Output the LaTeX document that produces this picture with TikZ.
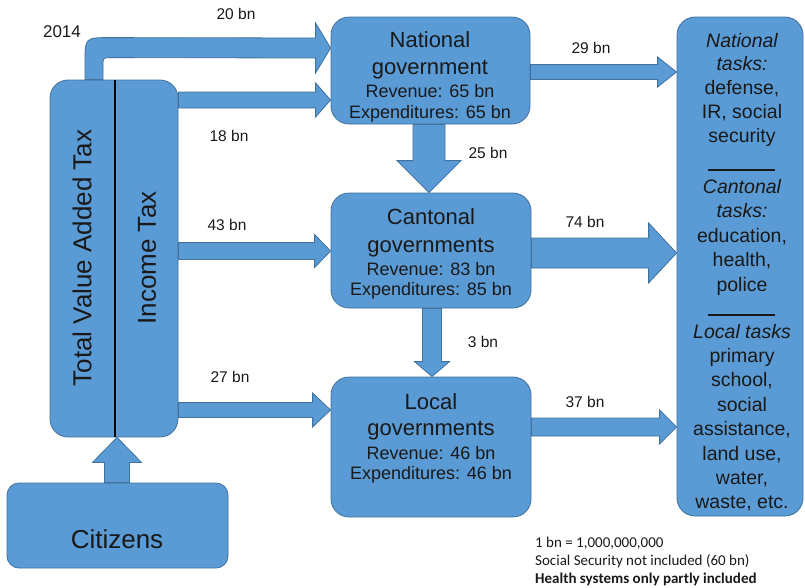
\documentclass[tikz,border=0pt]{standalone}
\usepackage{fontspec}
\setmainfont{Liberation Sans}
\newfontfamily\notefont{Carlito}
\usetikzlibrary{calc}
\definecolor{boxblue}{RGB}{91,155,213}
\definecolor{boxedge}{RGB}{65,113,156}
\definecolor{txt}{RGB}{25,25,25}
% horizontal block arrow: start, end, shaft half, head half, head length
\newcommand\harr[5]{\draw[arr] ($(#1)+(0,-#3)$) -- ($(#2)+(-#5,-#3)$) -- ($(#2)+(-#5,-#4)$) -- (#2) -- ($(#2)+(-#5,#4)$) -- ($(#2)+(-#5,#3)$) -- ($(#1)+(0,#3)$) -- cycle;}
% downward block arrow
\newcommand\varr[5]{\draw[arr] ($(#1)+(-#3,0)$) -- ($(#2)+(-#3,-#5)$) -- ($(#2)+(-#4,-#5)$) -- (#2) -- ($(#2)+(#4,-#5)$) -- ($(#2)+(#3,-#5)$) -- ($(#1)+(#3,0)$) -- cycle;}
\begin{document}
\begin{tikzpicture}[x=1pt,y=-1pt,
  box/.style={draw=boxedge, fill=boxblue, line width=0.8pt, rounded corners=18pt, inner sep=0pt},
  arr/.style={draw=boxedge, fill=boxblue, line width=0.8pt, line join=miter},
  lbl/.style={font=\fontsize{15.5}{18}\selectfont, text=txt, inner sep=0pt},
  big/.style={font=\fontsize{26}{30}\selectfont, text=txt, inner sep=0pt},
  ttl/.style={font=\fontsize{22}{26}\selectfont, text=txt, inner sep=0pt, anchor=base},
  det/.style={font=\fontsize{18}{21}\selectfont, text=txt, inner sep=0pt, anchor=base},
  tk/.style={font=\fontsize{19.5}{23}\selectfont, text=txt, inner sep=0pt, anchor=base},
  nt/.style={font=\notefont\fontsize{15}{18}\selectfont, text=txt, inner sep=0pt, anchor=base west}
]
\useasboundingbox (0,0) rectangle (805,587);

% boxes
\node[box, minimum width=128pt, minimum height=357pt] (tax) at (114,258.5) {};
\node[box, rounded corners=12pt, minimum width=221pt, minimum height=85pt] (cit) at (117.5,525.5) {};
\node[box, minimum width=199pt, minimum height=107pt] (nat) at (430.5,70.5) {};
\node[box, minimum width=200pt, minimum height=115pt] (cant) at (431,250.5) {};
\node[box, minimum width=200pt, minimum height=140pt] (loc) at (431,447) {};
\node[box, minimum width=126pt, minimum height=499pt] (tasks) at (740,266.5) {};

% divider in tax box
\coordinate (dv1) at (tax.north -| 115,0);
\coordinate (dv2) at (tax.south -| 115,0);
\draw[line width=1.5pt, black] (dv1) -- (dv2);

% curved arrow 20 bn
\coordinate (c20s) at (tax.north -| 94,0);
\coordinate (c20e) at (nat.west |- 0,48);
\draw[arr] ($(c20s)+(-9,0)$) -- ($(c20s)+(-9,-17)$) .. controls ($(c20s)+(-9,-42)$) .. ($(c20s)+(16,-42)$)
  -- ($(c20e)+(-15,-10)$) -- ($(c20e)+(-15,-25)$) -- (c20e) -- ($(c20e)+(-15,25)$) -- ($(c20e)+(-15,10)$)
  -- ($(c20s)+(17,-22)$) .. controls ($(c20s)+(9,-22)$) .. ($(c20s)+(9,-14)$) -- ($(c20s)+(9,0)$) -- cycle;

% horizontal arrows
\coordinate (a18s) at (tax.east |- 0,100);  \coordinate (a18e) at (nat.west |- 0,100);
\coordinate (a43s) at (tax.east |- 0,251);  \coordinate (a43e) at (cant.west |- 0,251);
\coordinate (a27s) at (tax.east |- 0,410);  \coordinate (a27e) at (loc.west |- 0,410);
\coordinate (a29s) at (nat.east |- 0,72);   \coordinate (a29e) at (tasks.west |- 0,72);
\coordinate (a74s) at (cant.east |- 0,253); \coordinate (a74e) at (tasks.west |- 0,253);
\coordinate (a37s) at (loc.east |- 0,427);  \coordinate (a37e) at (tasks.west |- 0,427);
\harr{a18s}{a18e}{8}{17}{15}
\harr{a43s}{a43e}{8.5}{16.5}{16}
\harr{a27s}{a27e}{7.5}{17}{18}
\harr{a29s}{a29e}{7.5}{15}{19}
\harr{a74s}{a74e}{15}{30}{28}
\harr{a37s}{a37e}{9}{17}{17}

% vertical arrows
\coordinate (a25s) at (nat.south -| 429,0);  \coordinate (a25e) at (cant.north -| 429,0);
\coordinate (a3s) at (cant.south -| 432,0);  \coordinate (a3e) at (loc.north -| 432,0);
\varr{a25s}{a25e}{16}{32}{32}
\varr{a3s}{a3e}{9.5}{17.5}{15}
\coordinate (cu0) at (cit.north -| 117,0);
\coordinate (cu1) at (tax.south -| 117,0);
\draw[arr] ($(cu0)+(-12.5,0)$) -- ($(cu1)+(-12.5,25)$) -- ($(cu1)+(-24.5,25)$) -- (cu1)
  -- ($(cu1)+(24.5,25)$) -- ($(cu1)+(12.5,25)$) -- ($(cu0)+(12.5,0)$) -- cycle;

% tax texts
\node[big, rotate=90] (tvat) at (82,258) {Total Value Added Tax};
\node[big, rotate=90] (tinc) at (147,258) {Income Tax};
\node[big] (tcit) at (117,539) {Citizens};

% government texts
\node[ttl] (n1) at (430,47) {National};
\node[ttl] (n2) at (430,74) {government};
\node[det] (n3) at (430,97) {Revenue: 65 bn};
\node[det] (n4) at (430,118) {Expenditures: 65 bn};
\node[ttl] (k1) at (431,224) {Cantonal};
\node[ttl] (k2) at (431,252) {governments};
\node[det] (k3) at (431,275) {Revenue: 83 bn};
\node[det] (k4) at (431,295) {Expenditures: 85 bn};
\node[ttl] (l1) at (431,409) {Local};
\node[ttl] (l2) at (431,435) {governments};
\node[det] (l3) at (431,459) {Revenue: 46 bn};
\node[det] (l4) at (431,479) {Expenditures: 46 bn};

% tasks
\node[tk] (t1) at (742,47) {\itshape National};
\node[tk] (t2) at (742,70.75) {\itshape tasks:};
\node[tk] (t3) at (742,94.5) {defense,};
\node[tk] (t4) at (742,118.25) {IR, social};
\node[tk] (t5) at (742,142) {security};
\draw[line width=1.2pt, txt] (708,170) -- (775,170);
\node[tk] (t6) at (742,193) {\itshape Cantonal};
\node[tk] (t7) at (742,217.5) {\itshape tasks:};
\node[tk] (t8) at (742,242) {education,};
\node[tk] (t9) at (742,266.5) {health,};
\node[tk] (t10) at (742,291) {police};
\draw[line width=1.2pt, txt] (708,315) -- (775,315);
\node[tk] (t11) at (742,338) {\itshape Local tasks};
\node[tk] (t12) at (742,362.4) {primary};
\node[tk] (t13) at (742,386.8) {school,};
\node[tk] (t14) at (742,411.2) {social};
\node[tk] (t15) at (742,435.6) {assistance,};
\node[tk] (t16) at (742,460) {land use,};
\node[tk] (t17) at (742,484.4) {water,};
\node[tk] (t18) at (742,508.8) {waste, etc.};

% flow labels
\node[lbl, font=\fontsize{17}{20}\selectfont] (y14) at (62,32) {2014};
\node[lbl] (b20) at (236,14) {20 bn};
\node[lbl] (b18) at (229,136) {18 bn};
\node[lbl] (b43) at (227,225) {43 bn};
\node[lbl] (b27) at (230,377) {27 bn};
\node[lbl] (b29) at (591,48) {29 bn};
\node[lbl] (b25) at (488,153) {25 bn};
\node[lbl] (b74) at (585,222) {74 bn};
\node[lbl] (b3) at (483,342) {3 bn};
\node[lbl] (b37) at (585,402) {37 bn};

% notes
\node[nt] (m1) at (535,547) {1 bn = 1,000,000,000};
\node[nt] (m2) at (535,565) {Social Security not included (60 bn)};
\node[nt] (m3) at (535,583) {\bfseries Health systems only partly included};
\end{tikzpicture}
\end{document}
